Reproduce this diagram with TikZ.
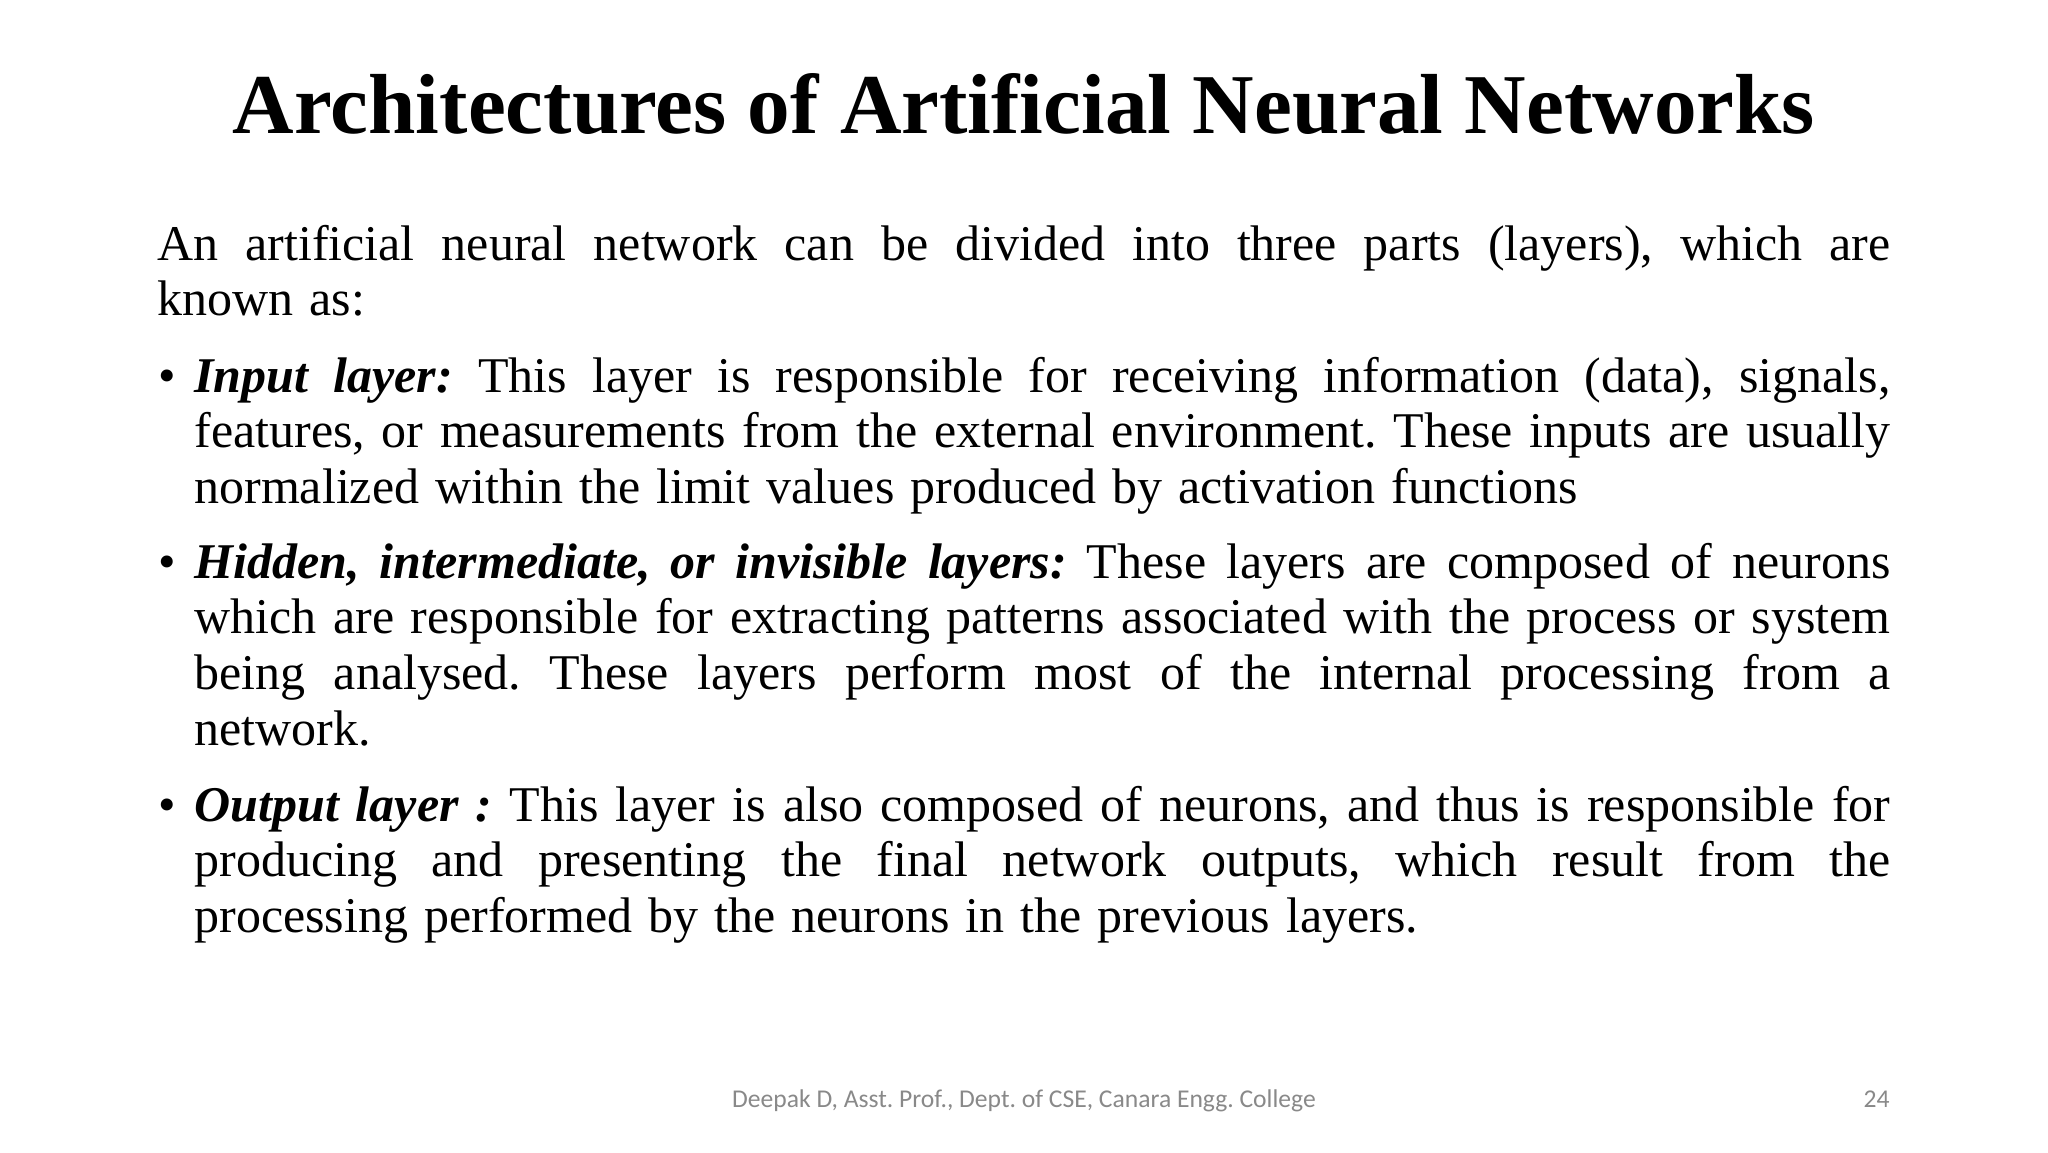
\documentclass[tikz,border=0pt]{standalone}
\usepackage{fontspec}
\setmainfont{Liberation Serif}
\newfontfamily\footfont{Carlito}
\frenchspacing
\newcommand\fullline[1]{\par\noindent\hbox to \hsize{#1}\par}
\newcommand\lastline[1]{\par\noindent #1\par}
\newcommand\parablock[2]{\vtop{\hsize=#1\parindent=0pt\parskip=0pt\frenchspacing\spaceskip=8pt plus 8pt minus 2.6pt\relax #2}}
\tikzset{
  titletext/.style={anchor=base, inner sep=0pt, font=\fontsize{42.6}{46}\selectfont\bfseries},
  bodytext/.style={anchor=base west, inner sep=0pt, font=\fontsize{25}{27.85}\selectfont},
  bullettext/.style={anchor=base west, inner sep=0pt, font=\fontsize{25}{27.85}\selectfont},
  foottext/.style={inner sep=0pt, text=footgray, font=\footfont\fontsize{12.8}{15}\selectfont}
}
\definecolor{footgray}{HTML}{898989}
\begin{document}
\begin{tikzpicture}[x=0.5pt,y=-0.5pt]
\fill[white] (0,0) rectangle (2048,1152);
\useasboundingbox (0,0) rectangle (2048,1152);
\node[titletext] (title) at (1024,133) {Architectures of Artificial Neural Networks};
\node[bodytext] (intro) at (157,260) {\parablock{866.5pt}{%
\fullline{An artificial neural network can be divided into three parts (layers), which are}%
\lastline{known as:}}};
\node[bullettext] (b1) at (158,392) {•};
\node[bodytext] (input) at (194,392) {\parablock{848pt}{%
\fullline{\textbf{\textit{Input layer:}} This layer is responsible for receiving information (data), signals,}%
\fullline{features, or measurements from the external environment. These inputs are usually}%
\lastline{normalized within the limit values produced by activation functions}}};
\node[bullettext] (b2) at (158,578) {•};
\node[bodytext] (hidden) at (194,578) {\parablock{848pt}{%
\fullline{\textbf{\textit{Hidden, intermediate, or invisible layers:}} These layers are composed of neurons}%
\fullline{which are responsible for extracting patterns associated with the process or system}%
\fullline{being analysed. These layers perform most of the internal processing from a}%
\lastline{network.}}};
\node[bullettext] (b3) at (158,821) {•};
\node[bodytext] (output) at (194,821) {\parablock{848pt}{%
\fullline{\textbf{\textit{Output layer :}} This layer is also composed of neurons, and thus is responsible for}%
\fullline{producing and presenting the final network outputs, which result from the}%
\lastline{processing performed by the neurons in the previous layers.}}};
\node[foottext, anchor=base] (footer) at (1024,1107) {Deepak D, Asst. Prof., Dept. of CSE, Canara Engg. College};
\node[foottext, anchor=base east] (pagenum) at (1890,1107) {24};
\end{tikzpicture}
\end{document}
